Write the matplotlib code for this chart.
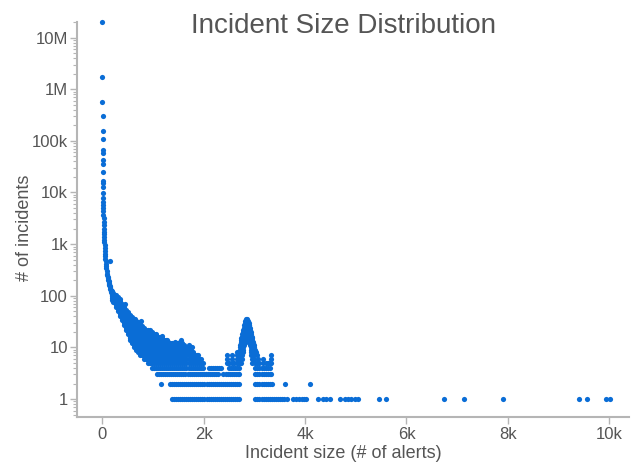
import matplotlib.pyplot as plt
from matplotlib.ticker import FixedLocator, FixedFormatter, LogLocator, NullFormatter
import numpy as np

plt.rcParams['font.family'] = ['Liberation Sans', 'DejaVu Sans']

head_x = [1, 2, 3, 4, 5, 6, 7, 8, 9, 10, 11, 12, 13, 14, 15, 16]
head_y = [20400000, 1710000, 556000, 307000, 155000, 110000, 67500, 57000,
          43000, 35000, 25000, 17000, 15000, 12800, 9800, 7800]

# steep part of the curve
curve_x = [17, 18, 19, 20, 22, 24, 26, 28, 30, 32, 34, 36, 38, 40, 43, 46, 50,
           54, 58, 62, 66, 70, 75, 80, 86, 92, 98, 104, 110, 116, 122, 128,
           134, 140, 146, 152, 158, 164, 170, 176, 182, 188, 194]
curve_y = [6500, 5600, 4900, 4300, 3700, 3200, 2700, 2300, 2000, 1750, 1550,
           1350, 1200, 1080, 950, 850, 750, 650, 580, 520, 470, 420, 380, 340,
           300, 270, 250, 235, 220, 205, 192, 180, 170, 160, 152, 145, 138,
           131, 125, 119, 113, 108, 103]

# noisy band: counts seen in each column of sizes
band_x = [200, 220, 260, 300, 340, 380, 420, 460, 500, 540, 580, 620, 660,
          700, 740, 780, 820, 860, 900, 940, 980, 1020, 1060, 1100, 1140,
          1180, 1220, 1260, 1300, 1340, 1380, 1420, 1460, 1500, 1540, 1580,
          1620, 1660, 1700, 1740, 1780, 1820, 1860, 1900, 1940, 1980]
band_counts = [
    [84, 90, 98, 106, 115, 124],
    [76, 82, 88, 96, 105, 114],
    [60, 66, 72, 79, 86, 94, 103],
    [50, 55, 60, 66, 72, 79, 86, 94],
    [41, 45, 50, 55, 60, 66, 72, 79, 85],
    [34, 37, 40, 44, 48, 53, 58, 64, 70],
    [27, 30, 32, 35, 38, 42, 46, 50, 55, 60],
    [22, 24, 26, 28, 30, 33, 36, 40, 44, 48, 53],
    [18, 20, 22, 24, 26, 28, 30, 33, 36, 40, 44, 48],
    [14, 15, 16, 18, 20, 22, 24, 26, 28, 30, 33, 36, 40, 43],
    [12, 13, 14, 15, 16, 18, 20, 22, 24, 26, 28, 30, 33, 36, 39],
    [10, 11, 12, 13, 14, 15, 16, 18, 20, 22, 24, 26, 28, 30, 33, 36],
    [9, 10, 11, 12, 13, 14, 15, 16, 18, 20, 22, 24, 26, 28, 30, 33],
    [8, 9, 10, 11, 12, 13, 14, 15, 16, 18, 20, 22, 24, 26, 28, 31],
    [7, 8, 9, 10, 11, 12, 13, 14, 15, 16, 18, 20, 22, 24, 26, 28],
    [7, 8, 9, 10, 11, 12, 13, 14, 15, 16, 18, 20, 22, 24, 26],
    [6, 7, 8, 9, 10, 11, 12, 13, 14, 15, 16, 18, 20, 22, 24],
    [6, 7, 8, 9, 10, 11, 12, 13, 14, 15, 16, 18, 20, 22],
    [5, 6, 7, 8, 9, 10, 11, 12, 13, 14, 15, 16, 18, 20, 22],
    [5, 6, 7, 8, 9, 10, 11, 12, 13, 14, 15, 16, 18, 20],
    [5, 6, 7, 8, 9, 10, 11, 12, 13, 14, 15, 16, 18, 20],
    [5, 6, 7, 8, 9, 10, 11, 12, 13, 14, 15, 16, 18],
    [5, 6, 7, 8, 9, 10, 11, 12, 13, 14, 15, 16, 18],
    [5, 6, 7, 8, 9, 10, 11, 12, 13, 14, 15, 16],
    [5, 6, 7, 8, 9, 10, 11, 12, 13, 14, 15, 16],
    [5, 6, 7, 8, 9, 10, 11, 12, 13, 14, 15],
    [5, 6, 7, 8, 9, 10, 11, 12, 13, 14],
    [5, 6, 7, 8, 9, 10, 11, 12, 13, 14],
    [5, 6, 7, 8, 9, 10, 11, 12, 13],
    [5, 6, 7, 8, 9, 10, 11, 12],
    [5, 6, 7, 8, 9, 10, 11, 12],
    [5, 6, 7, 8, 9, 10, 11],
    [5, 6, 7, 8, 9, 10, 11, 12],
    [5, 6, 7, 8, 9, 10, 11, 12],
    [5, 6, 7, 8, 9, 10, 11, 12, 13],
    [5, 6, 7, 8, 9, 10, 11, 12],
    [5, 6, 7, 8, 9, 10, 11],
    [5, 6, 7, 8, 9, 10],
    [5, 6, 7, 8, 9, 10],
    [5, 6, 7, 8, 9],
    [5, 6, 7, 8],
    [5, 6, 7],
    [5, 6, 7],
    [5, 6],
    [5, 6],
    [5],
]

# stray points sticking out of the band
stray_x = [148, 440, 640, 760, 937, 1180, 1266, 1440, 1560, 1700, 1760, 1880]
stray_y = [480, 70, 36, 33, 22, 17, 14, 13, 14, 11, 10, 7]

# the bump around 2.8k, one list of sizes per count
peak_counts = [36, 33, 30, 27, 24, 22, 20, 18, 16, 15, 14, 13, 12, 11, 10, 9, 8, 7, 6, 5]
peak_sizes = [
    [2830, 2860],
    [2815, 2845, 2875],
    [2805, 2835, 2865, 2890],
    [2795, 2825, 2855, 2885, 2900],
    [2790, 2820, 2850, 2880, 2910],
    [2780, 2810, 2840, 2870, 2900, 2920],
    [2770, 2800, 2830, 2860, 2890, 2930],
    [2760, 2790, 2820, 2850, 2880, 2910, 2940],
    [2750, 2780, 2810, 2840, 2870, 2900, 2950],
    [2745, 2775, 2805, 2835, 2865, 2900, 2930, 2955],
    [2740, 2770, 2800, 2830, 2860, 2910, 2940, 2960],
    [2735, 2765, 2795, 2825, 2915, 2945, 2965],
    [2730, 2760, 2790, 2920, 2950, 2970],
    [2720, 2750, 2785, 2920, 2955, 2990],
    [2720, 2750, 2780, 2925, 2960, 3000],
    [2710, 2745, 2775, 2925, 2970, 3020],
    [2650, 2700, 2740, 2770, 2930, 2980, 3040],
    [2450, 2550, 2650, 2690, 2730, 2760, 2940, 2990, 3060, 3337],
    [2450, 2550, 2650, 2680, 2720, 2750, 2950, 3000, 3080, 3172, 3337],
    [2450, 2490, 2550, 2600, 2650, 2670, 2710, 2740, 2960, 3010, 3050, 3100,
     3172, 3220, 3260, 3300, 3337],
]

# flat rows of sizes seen exactly 4, 3, 2 and 1 times
row4_x = [980, 1020, 1060, 1100, 1140, 1180, 1220, 1260, 1300, 1340, 1380,
          1420, 1460, 1500, 1540, 1580, 1620, 1660, 1700, 1740, 1780, 1820,
          1860, 1900, 1940, 1980, 2100, 2140, 2180, 2220, 2260, 2300, 2340,
          2490, 2530, 2570, 2610, 2650, 2700, 3020, 3060, 3100, 3140, 3180,
          3220, 3260, 3310]
row3_x = [1080, 1120, 1160, 1200, 1240, 1280, 1320, 1360, 1400, 1440, 1480,
          1520, 1560, 1600, 1640, 1680, 1720, 1760, 1800, 1840, 1880, 1920,
          1960, 2000, 2040, 2080, 2120, 2160, 2200, 2240, 2280, 2390, 2430,
          2470, 2510, 2550, 2590, 2630, 2670, 2700, 3020, 3060, 3100, 3140,
          3180, 3220, 3260, 3300, 3320]
row2_x = [1167, 1335, 1375, 1415, 1455, 1495, 1535, 1575, 1615, 1655, 1695,
          1735, 1775, 1815, 1855, 1895, 1935, 1975, 2015, 2055, 2095, 2135,
          2175, 2215, 2255, 2295, 2335, 2375, 2415, 2455, 2495, 2535, 2575,
          2615, 2655, 2700, 3020, 3060, 3100, 3140, 3180, 3220, 3260, 3300,
          3355, 3600, 4090]
row1_x = [1375, 1415, 1455, 1495, 1535, 1575, 1615, 1655, 1695, 1735, 1775,
          1815, 1855, 1895, 1935, 1975, 2015, 2055, 2095, 2135, 2175, 2215,
          2255, 2295, 2335, 2375, 2415, 2455, 2495, 2535, 2575, 2615, 2655,
          2700, 3020, 3060, 3100, 3140, 3180, 3220, 3260, 3300, 3340, 3380,
          3420, 3460, 3500, 3540, 3580, 3640, 3770, 3820, 3880, 3930, 3980,
          4020, 4257, 4350, 4420, 4490, 4684, 4780, 4850, 4910, 4980, 5050,
          5454, 5605, 6736, 7130, 7905, 9398, 9570, 9931, 10010]

y_ticks = [1, 10, 100, 1000, 10000, 100000, 1000000, 10000000]
y_labels = ['1', '10', '100', '1k', '10k', '100k', '1M', '10M']
x_ticks = [0, 2000, 4000, 6000, 8000, 10000]
x_labels = ['0', '2k', '4k', '6k', '8k', '10k']

xs, ys = [], []
xs += head_x; ys += head_y
xs += curve_x; ys += curve_y
for x, cs in zip(band_x, band_counts):
    xs += [x] * len(cs); ys += cs
xs += stray_x; ys += stray_y
for c, sz in zip(peak_counts, peak_sizes):
    xs += sz; ys += [c] * len(sz)
for c, row in [(4, row4_x), (3, row3_x), (2, row2_x), (1, row1_x)]:
    xs += row; ys += [c] * len(row)
xs = np.array(xs); ys = np.array(ys)

grey = '#555555'
spine = '#b5b5b5'

fig = plt.figure(figsize=(6.36, 4.62), dpi=100)
ax = fig.add_axes([77/636, 45/462, 552/636, 395/462])
ax.scatter(xs, ys, s=14, color='#0a6dd6', linewidths=0, clip_on=False, zorder=3)

ax.set_yscale('log')
ax.set_xlim(-500, 10390)
ax.set_ylim(0.45, 2.0e7)

ax.yaxis.set_major_locator(FixedLocator(y_ticks))
ax.yaxis.set_major_formatter(FixedFormatter(y_labels))
ax.yaxis.set_minor_locator(LogLocator(base=10, subs=np.arange(2, 10), numticks=20))
ax.yaxis.set_minor_formatter(NullFormatter())
ax.xaxis.set_major_locator(FixedLocator(x_ticks))
ax.xaxis.set_major_formatter(FixedFormatter(x_labels))

for side in ['top', 'right']:
    ax.spines[side].set_visible(False)
for side in ['left', 'bottom']:
    ax.spines[side].set_color(spine)
    ax.spines[side].set_linewidth(1.5)

ax.tick_params(which='major', length=5, width=1, color=spine, labelcolor=grey,
               labelsize=12)
ax.tick_params(which='minor', length=3, width=0.8, color=spine)
ax.tick_params(axis='y', pad=1.5)
ax.tick_params(axis='x', pad=2)

ax.set_xlabel('Incident size (# of alerts)', fontsize=13, color=grey, va='center')
ax.xaxis.set_label_coords(266/552, -37/395)
ax.set_ylabel('# of incidents', fontsize=13, color=grey, va='center')
ax.yaxis.set_label_coords(-52/552, 189/395)

fig.text(343/636, 1 - 33/462, 'Incident Size Distribution', ha='center',
         va='baseline', fontsize=20, color=grey)

plt.savefig('out.png', dpi=100)
